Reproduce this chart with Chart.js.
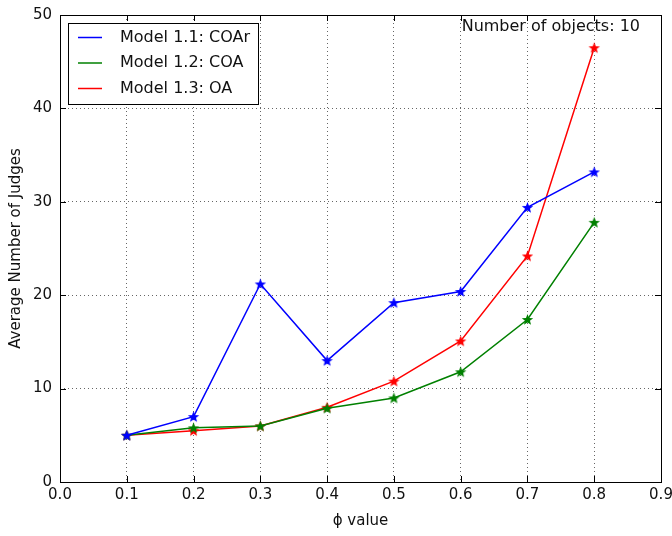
<!DOCTYPE html>
<html>
<head>
<meta charset="utf-8">
<script src="https://cdn.jsdelivr.net/npm/chart.js@4"></script>
<style>
  html, body { margin: 0; padding: 0; background: #fff; }
  #wrap { width: 672px; height: 536px; }
</style>
</head>
<body>
<div id="wrap"><canvas id="chart" width="672" height="536"></canvas></div>
<script>
// data
const phi = [0.1, 0.2, 0.3, 0.4, 0.5, 0.6, 0.7, 0.8];
const coar = [5.0, 7.0, 21.2, 13.0, 19.2, 20.4, 29.4, 33.2];
const coa = [5.0, 5.8, 6.0, 7.9, 9.0, 11.8, 17.4, 27.8];
const oa = [5.0, 5.5, 6.0, 8.0, 10.8, 15.1, 24.2, 46.5];
const labels = ["Model 1.1: COAr", "Model 1.2: COA", "Model 1.3: OA"];
const colors = ["#0000ff", "#008000", "#ff0000"];
const note = "Number of objects: 10";

const FONT = "'DejaVu Sans', sans-serif";

// filled star marker like matplotlib '*'
function starImg(color) {
  const c = document.createElement("canvas");
  c.width = 13;
  c.height = 13;
  const g = c.getContext("2d");
  g.beginPath();
  for (let i = 0; i < 10; i++) {
    const r = i % 2 === 0 ? 6 : 2.6;
    const a = -Math.PI / 2 + (i * Math.PI) / 5;
    const px = 6.5 + r * Math.cos(a);
    const py = 7 + r * Math.sin(a);
    if (i === 0) g.moveTo(px, py);
    else g.lineTo(px, py);
  }
  g.closePath();
  g.fillStyle = color;
  g.fill();
  return c;
}

function points(vals) {
  return phi.map((x, i) => ({ x: x, y: vals[i] }));
}

const series = [coar, coa, oa];

// frame, inward ticks, legend box and note
const extras = {
  id: "extras",
  afterDraw(chart) {
    const ctx = chart.ctx;
    const a = chart.chartArea;
    const xs = chart.scales.x;
    const ys = chart.scales.y;
    ctx.save();
    ctx.strokeStyle = "#000";
    ctx.lineWidth = 1;
    ctx.beginPath();
    xs.ticks.forEach((t) => {
      const px = Math.round(xs.getPixelForValue(t.value)) + 0.5;
      ctx.moveTo(px, a.bottom);
      ctx.lineTo(px, a.bottom - 6);
      ctx.moveTo(px, a.top);
      ctx.lineTo(px, a.top + 6);
    });
    ys.ticks.forEach((t) => {
      const py = Math.round(ys.getPixelForValue(t.value)) + 0.5;
      ctx.moveTo(a.left, py);
      ctx.lineTo(a.left + 6, py);
      ctx.moveTo(a.right, py);
      ctx.lineTo(a.right - 6, py);
    });
    ctx.stroke();
    ctx.strokeRect(Math.round(a.left) + 0.5, Math.round(a.top) + 0.5,
      Math.round(a.right - a.left), Math.round(a.bottom - a.top));

    // legend
    const lx = a.left + 8, ly = a.top + 8;
    ctx.fillStyle = "#fff";
    ctx.fillRect(lx, ly, 190, 81);
    ctx.strokeRect(lx + 0.5, ly + 0.5, 190, 81);
    ctx.font = "16px " + FONT;
    ctx.textBaseline = "middle";
    ctx.textAlign = "left";
    chart.data.datasets.forEach((ds, i) => {
      const yy = ly + 14.5 + i * 25.5;
      ctx.strokeStyle = ds.borderColor;
      ctx.lineWidth = 1.5;
      ctx.beginPath();
      ctx.moveTo(lx + 10, yy);
      ctx.lineTo(lx + 34, yy);
      ctx.stroke();
      ctx.fillStyle = "#111";
      ctx.fillText(ds.label, lx + 52, yy);
    });

    ctx.textAlign = "right";
    ctx.fillText(note, a.right - 21, a.top + 12);
    ctx.restore();
  },
};

const ctx = document.getElementById("chart").getContext("2d");
new Chart(ctx, {
  type: "line",
  data: {
    datasets: series.map((vals, i) => ({
      label: labels[i],
      data: points(vals),
      borderColor: colors[i],
      backgroundColor: colors[i],
      borderWidth: 1.5,
      pointStyle: starImg(colors[i]),
      pointRadius: 6,
      tension: 0,
      fill: false,
    })),
  },
  options: {
    responsive: false,
    animation: false,
    layout: { padding: { top: 15, right: 11, left: 0, bottom: 0 } },
    plugins: { legend: { display: false }, tooltip: { enabled: false } },
    scales: {
      x: {
        type: "linear",
        min: 0,
        max: 0.9,
        ticks: {
          stepSize: 0.1,
          padding: 4,
          color: "#111",
          font: { family: FONT, size: 15 },
          callback: (v) => v.toFixed(1),
        },
        grid: { color: "rgba(0,0,0,0.6)", drawTicks: false },
        border: { display: false, dash: [1, 3] },
        title: {
          display: true,
          text: "ϕ value",
          color: "#111",
          font: { family: FONT, size: 15 },
          padding: { top: 0, bottom: 6 },
        },
        afterFit: (s) => {
          s.height = 54;
          s.paddingLeft = 0;
          s.paddingRight = 0;
        },
      },
      y: {
        min: 0,
        max: 50,
        ticks: {
          stepSize: 10,
          padding: 8,
          color: "#111",
          font: { family: FONT, size: 15 },
        },
        grid: { color: "rgba(0,0,0,0.6)", drawTicks: false },
        border: { display: false, dash: [1, 3] },
        title: {
          display: true,
          text: "Average Number of Judges",
          color: "#111",
          font: { family: FONT, size: 15 },
          padding: { top: 7, bottom: 0 },
        },
        afterFit: (s) => {
          s.width = 60;
          s.paddingTop = 0;
          s.paddingBottom = 0;
        },
      },
    },
  },
  plugins: [extras],
});
</script>
</body>
</html>
